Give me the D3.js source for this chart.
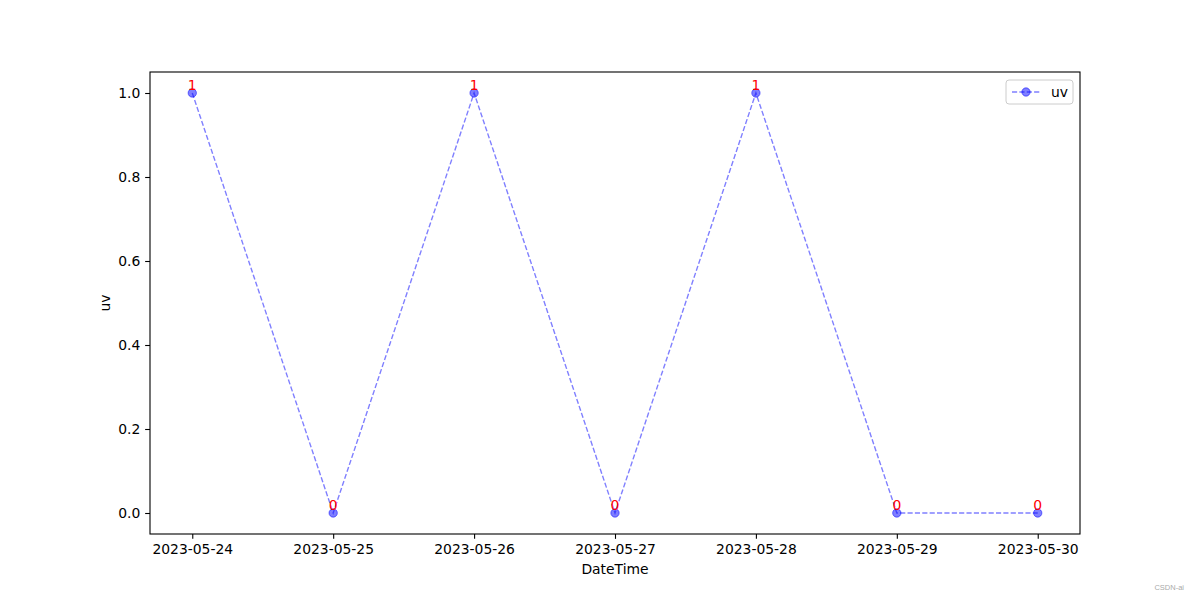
<!DOCTYPE html>
<html>
<head>
<meta charset="utf-8">
<script src="https://cdn.jsdelivr.net/npm/d3@7"></script>
<style>
  body { margin: 0; background: #fff; }
  svg { display: block; font-family: "DejaVu Sans", sans-serif; }
</style>
</head>
<body>
<svg width="1200" height="600"></svg>
<script>
// data
const dates = ["2023-05-24", "2023-05-25", "2023-05-26", "2023-05-27", "2023-05-28", "2023-05-29", "2023-05-30"];
const uv = [1, 0, 1, 0, 1, 0, 0];
const yTicks = [0.0, 0.2, 0.4, 0.6, 0.8, 1.0];

const svg = d3.select("svg");
const m = { left: 150, right: 1080, top: 72, bottom: 534 };

const x = d3.scaleLinear().domain([-0.3, dates.length - 1 + 0.3]).range([m.left, m.right]);
const y = d3.scaleLinear().domain([-0.05, 1.05]).range([m.bottom, m.top]);

const blue = "#0000ff";

// axes
const xAxis = d3.axisBottom(x)
  .tickValues(d3.range(dates.length))
  .tickFormat((i) => dates[i])
  .tickSize(4.86).tickPadding(4.9);
const yAxis = d3.axisLeft(y)
  .tickValues(yTicks)
  .tickFormat(d3.format(".1f"))
  .tickSize(4.86).tickPadding(4.9);

const gx = svg.append("g").attr("transform", `translate(0,${m.bottom})`).call(xAxis);
const gy = svg.append("g").attr("transform", `translate(${m.left},0)`).call(yAxis);
[gx, gy].forEach((g) => {
  g.select(".domain").remove();
  g.selectAll(".tick line").attr("stroke", "#000").attr("stroke-width", 1.1);
  g.selectAll(".tick text").attr("fill", "#000").style("font-size", "13.9px").style("font-family", "DejaVu Sans");
});

// line
const line = d3.line().x((d, i) => x(i)).y((d) => y(d));
svg.append("path")
  .datum(uv)
  .attr("d", line)
  .attr("fill", "none")
  .attr("stroke", blue)
  .attr("stroke-opacity", 0.5)
  .attr("stroke-width", 1.39)
  .attr("stroke-dasharray", "5.15,2.22");

svg.append("g").selectAll("circle")
  .data(uv)
  .join("circle")
  .attr("cx", (d, i) => x(i))
  .attr("cy", (d) => y(d))
  .attr("r", 4.17)
  .attr("fill", blue)
  .attr("fill-opacity", 0.5)
  .attr("stroke", blue)
  .attr("stroke-opacity", 0.5)
  .attr("stroke-width", 1);

// value labels
svg.append("g").selectAll("text")
  .data(uv)
  .join("text")
  .attr("x", (d, i) => x(i))
  .attr("y", (d) => y(d) - 3.3)
  .attr("text-anchor", "middle")
  .attr("fill", "red")
  .style("font-size", "13.9px")
  .text((d) => d);

// spines
svg.append("rect")
  .attr("x", m.left).attr("y", m.top)
  .attr("width", m.right - m.left).attr("height", m.bottom - m.top)
  .attr("fill", "none").attr("stroke", "#000").attr("stroke-width", 1.1);

// axis labels
svg.append("text")
  .attr("x", (m.left + m.right) / 2).attr("y", 574)
  .attr("text-anchor", "middle").style("font-size", "13.9px")
  .text("DateTime");
svg.append("text")
  .attr("transform", `translate(110,${(m.top + m.bottom) / 2}) rotate(-90)`)
  .attr("text-anchor", "middle").style("font-size", "13.9px")
  .text("uv");

// legend
const lg = svg.append("g").attr("transform", "translate(1006,80)");
lg.append("rect")
  .attr("x", 0).attr("y", 0).attr("width", 67).attr("height", 24).attr("rx", 3)
  .attr("fill", "#fff").attr("fill-opacity", 0.8)
  .attr("stroke", "#ccc").attr("stroke-width", 1);
lg.append("line")
  .attr("x1", 6).attr("x2", 34).attr("y1", 12).attr("y2", 12)
  .attr("stroke", blue).attr("stroke-opacity", 0.5).attr("stroke-width", 1.39)
  .attr("stroke-dasharray", "5.15,2.22");
lg.append("circle")
  .attr("cx", 20).attr("cy", 12).attr("r", 4.17)
  .attr("fill", blue).attr("fill-opacity", 0.5)
  .attr("stroke", blue).attr("stroke-opacity", 0.5);
lg.append("text")
  .attr("x", 45).attr("y", 17)
  .style("font-size", "13.9px")
  .text("uv");

// watermark
svg.append("text")
  .attr("x", 1184).attr("y", 590)
  .attr("text-anchor", "end").attr("fill", "#aaa")
  .style("font-size", "7.5px").style("font-family", "Liberation Sans, Arial")
  .text("CSDN-ai");
</script>
</body>
</html>
